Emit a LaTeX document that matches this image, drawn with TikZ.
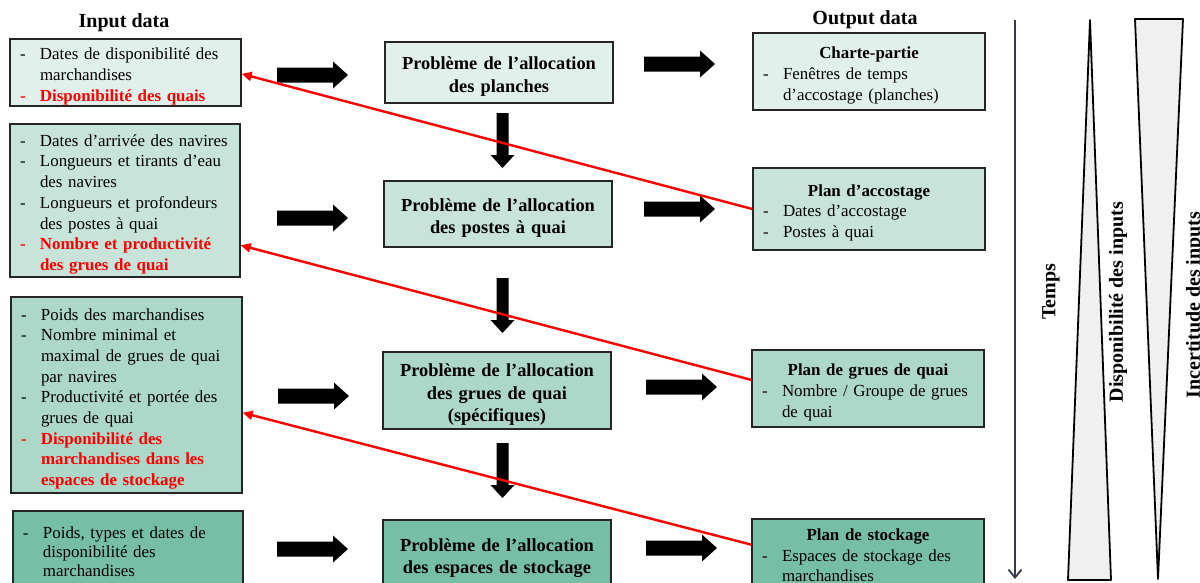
\documentclass[tikz,border=0pt]{standalone}
\usepackage{fontspec}
\setmainfont{Liberation Serif}
\usetikzlibrary{arrows.meta,calc}
\definecolor{cA}{HTML}{E2F0EB}
\definecolor{cB}{HTML}{C8E4DA}
\definecolor{cC}{HTML}{ADD7C9}
\definecolor{cD}{HTML}{76BEA6}
\definecolor{tline}{RGB}{58,58,76}
\definecolor{trifill}{HTML}{F0F0F0}
\newcommand\myitem{\makebox[20pt][l]{-}}
\newcommand\mycont{\hspace*{20pt}}
\newcommand\myred[1]{\textcolor{red}{\bfseries #1}}
\newcommand\rblk[1]{\fill[black] (#1) ++(0,-7.5) -- ++(56,0) -- ++(0,-6) -- ++(15,13.5) -- ++(-15,13.5) -- ++(0,-6) -- ++(-56,0) -- cycle;}
\newcommand\dblk[1]{\fill[black] (#1) ++(-6,0) -- ++(0,42) -- ++(-6,0) -- ++(12,13) -- ++(12,-13) -- ++(-6,0) -- ++(0,-42) -- cycle;}
\tikzset{
  box/.style={draw=black!85, line width=1.3pt, inner xsep=10pt, inner ysep=0pt, align=left,
    text height=19.5pt, font=\fontsize{16.9}{20.7}\selectfont},
  mid/.style={draw=black!85, line width=1.3pt, inner xsep=4pt, inner ysep=0pt, align=center,
    text width=220pt, text height=21pt,
    font=\fontsize{18.4}{22.5}\selectfont\bfseries},
  redarr/.style={draw=red, line width=2.4pt, -{Triangle[length=10pt,width=9pt]}},
  head/.style={font=\fontsize{20}{24}\selectfont\bfseries, anchor=base, inner sep=0pt},
  vlab/.style={rotate=90, inner sep=0pt, font=\fontsize{20}{24}\selectfont\bfseries},
  tri/.style={draw=black, fill=trifill, line width=1.8pt, line join=round},
}
\begin{document}
\begin{tikzpicture}[x=1pt,y=-1pt]
\useasboundingbox (0,0) rectangle (1200,582);
\clip (0,0) rectangle (1200,582);

% headings
\node[head] (hin) at (124,27) {Input data};
\node[head] (hout) at (865,24) {Output data};

% input boxes
\node[box, fill=cA, minimum width=231pt, minimum height=67pt, text width=211pt] (i1) at (125.5,72.5) {%
\myitem Dates de disponibilité des\\
\mycont marchandises\\
\myred{\myitem Disponibilité des quais}};

\node[box, fill=cB, minimum width=230pt, minimum height=153pt, text width=210pt] (i2) at (125,200.5) {%
\myitem Dates d’arrivée des navires\\
\myitem Longueurs et tirants d’eau\\
\mycont des navires\\
\myitem Longueurs et profondeurs\\
\mycont des postes à quai\\
\myred{\myitem Nombre et productivité}\\
\myred{\mycont des grues de quai}};

\node[box, fill=cC, minimum width=231pt, minimum height=196pt, text width=211pt] (i3) at (126.5,395) {%
\myitem Poids des marchandises\\
\myitem Nombre minimal et\\
\mycont maximal de grues de quai\\
\mycont par navires\\
\myitem Productivité et portée des\\
\mycont grues de quai\\
\myred{\myitem Disponibilité des}\\
\myred{\mycont marchandises dans les}\\
\myred{\mycont espaces de stockage}};

\node[box, fill=cD, minimum width=230pt, minimum height=76pt, text width=210pt, text height=17pt,
  font=\fontsize{16.9}{19.3}\selectfont] (i4) at (128,549) {%
\myitem Poids, types et dates de\\
\mycont disponibilité des\\
\mycont marchandises};

% middle boxes
\node[mid, fill=cA, minimum width=228pt, minimum height=61pt] (m1) at (499,72.5) {Problème de l’allocation\\des planches};
\node[mid, fill=cB, minimum width=228pt, minimum height=66pt] (m2) at (498,214) {Problème de l’allocation\\des postes à quai};
\node[mid, fill=cC, minimum width=228pt, minimum height=77pt] (m3) at (497,390.5) {Problème de l’allocation\\des grues de quai\\(spécifiques)};
\node[mid, fill=cD, minimum width=228pt, minimum height=68pt] (m4) at (497,554) {Problème de l’allocation\\des espaces de stockage};

% output boxes
\node[box, fill=cA, minimum width=232pt, minimum height=77pt, text width=212pt] (o1) at (869,71.5) {%
\makebox[\linewidth][c]{\bfseries Charte-partie}\\
\myitem Fenêtres de temps\\
\mycont d’accostage (planches)};
\node[box, fill=cB, minimum width=232pt, minimum height=82pt, text width=212pt] (o2) at (869,209) {%
\makebox[\linewidth][c]{\bfseries Plan d’accostage}\\
\myitem Dates d’accostage\\
\myitem Postes à quai};
\node[box, fill=cC, minimum width=232pt, minimum height=77pt, text width=212pt] (o3) at (868,388.5) {%
\makebox[\linewidth][c]{\bfseries Plan de grues de quai}\\
\myitem Nombre / Groupe de grues\\
\mycont de quai};
\node[box, fill=cD, minimum width=232pt, minimum height=68pt, text width=212pt, text height=16.5pt] (o4) at (868,553) {%
\makebox[\linewidth][c]{\bfseries Plan de stockage}\\
\myitem Espaces de stockage des\\
\mycont marchandises};

% block arrows: input -> problem
\coordinate (ra1) at (277,75);
\coordinate (ra2) at (277,218);
\coordinate (ra3) at (278,396);
\coordinate (ra4) at (277,549);
% problem -> output
\coordinate (rb1) at (644,64);
\coordinate (rb2) at (644,209);
\coordinate (rb3) at (646,387);
\coordinate (rb4) at (646,548);
% down arrows
\coordinate (da1) at (502.5,113);
\coordinate (da2) at (502.5,278);
\coordinate (da3) at (502.5,443);
\rblk{ra1}\rblk{ra2}\rblk{ra3}\rblk{ra4}
\rblk{rb1}\rblk{rb2}\rblk{rb3}\rblk{rb4}
\dblk{da1}\dblk{da2}\dblk{da3}

% red feedback arrows
\draw[redarr] (o2.west) -- ($(i1.north east)!0.52!(i1.south east)$);
\draw[redarr] ($(o3.north west)!0.39!(o3.south west)$) -- ($(i2.north east)!0.79!(i2.south east)$);
\draw[redarr] ($(o4.north west)!0.38!(o4.south west)$) -- ($(i3.north east)!0.59!(i3.south east)$);

% time axis
\coordinate (t0) at (1015,20);
\coordinate (t1) at (1015,579);
\draw[line width=1.8pt, draw=tline, -{Straight Barb[length=8pt,width=13pt]}] (t0) -- (t1);

% triangles
\draw[tri] (1090,20) -- (1111,580) -- (1068,580) -- cycle;
\draw[tri] (1135,19) -- (1183,19) -- (1158,579) -- cycle;

% vertical labels
\node[vlab] (temps) at (1051,292) {Temps};
\node[vlab] (dispo) at (1118,302) {Disponibilité des inputs};
\node[vlab] (incert) at (1195,305) {Incertitude des inputs};
\end{tikzpicture}
\end{document}
